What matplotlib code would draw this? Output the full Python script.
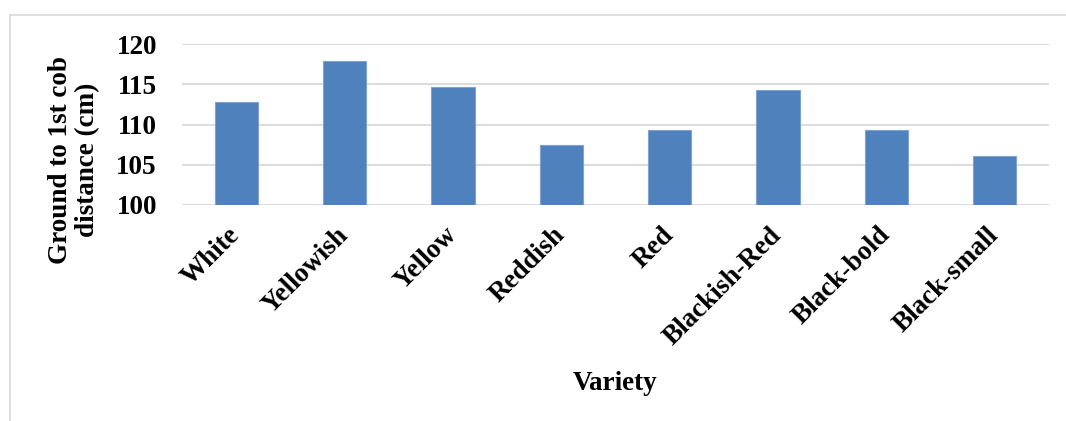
import matplotlib
matplotlib.use("Agg")
import matplotlib.pyplot as plt
from matplotlib.lines import Line2D

categories = ["White", "Yellowish", "Yellow", "Reddish", "Red",
              "Blackish-Red", "Black-bold", "Black-small"]
values = [112.8, 117.85, 114.7, 107.5, 109.3, 114.3, 109.3, 106.1]
yticks = [100, 105, 110, 115, 120]

W, H = 1066, 421
fig = plt.figure(figsize=(W / 100, H / 100), dpi=100)
plt.rcParams['font.family'] = ['Liberation Serif', 'DejaVu Serif']

left, right, top, bottom = 182, 1049, 44, 205
ax = fig.add_axes([left / W, 1 - bottom / H, (right - left) / W, (bottom - top) / H])

x = list(range(len(categories)))
ax.bar(x, [v - 100 for v in values], bottom=100, width=0.4,
       color="#4F81BD", edgecolor="#7FA2D0", linewidth=0.8, zorder=3)

ax.set_xlim(-0.5, len(categories) - 0.5)
ax.set_ylim(100, 120)
ax.set_yticks(yticks)
ax.set_yticklabels([str(t) for t in yticks], fontsize=19.5, fontweight="bold")
ax.yaxis.grid(True, color="#D9D9D9", linewidth=1.3, zorder=0)
ax.set_axisbelow(True)
for s in ax.spines.values():
    s.set_visible(False)
ax.tick_params(axis="both", length=0, pad=8)
ax.tick_params(axis="y", pad=18)

ax.set_xticks(x)
ax.set_xticklabels(categories, rotation=45, ha="right", va="center",
                   rotation_mode="anchor", fontsize=19.5, fontweight="bold")
for lbl in ax.get_xticklabels():
    lbl.set_y(-0.095)

fig.text(615 / W, 1 - 383 / H, "Variety", ha="center", va="center",
         fontsize=19.5, fontweight="bold")
fig.text(74 / W, 1 - 160 / H, "Ground to 1st cob\ndistance (cm)", ha="center",
         va="center", rotation=90, fontsize=19.5, fontweight="bold",
         linespacing=1.15)

# chart border (top and left visible)
fig.add_artist(Line2D([10 / W, 10 / W], [0, 1 - 14.5 / H], color="#D9D9D9",
                      linewidth=1.2, transform=fig.transFigure))
fig.add_artist(Line2D([10 / W, 1], [1 - 14.5 / H, 1 - 14.5 / H], color="#D9D9D9",
                      linewidth=1.2, transform=fig.transFigure))

fig.savefig("out.png", dpi=100)
